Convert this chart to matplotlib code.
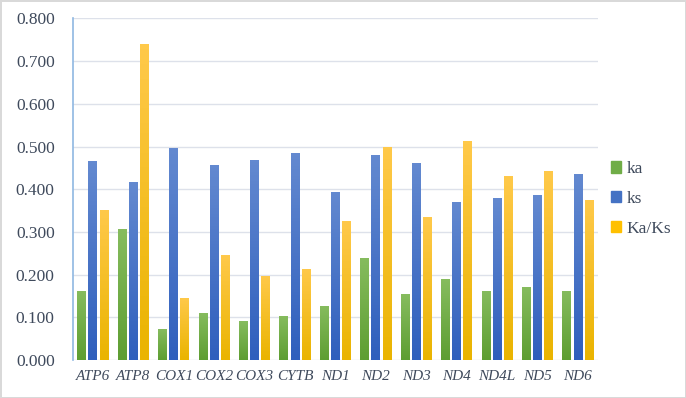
import numpy as np
import matplotlib

matplotlib.use("Agg")
import matplotlib.pyplot as plt
from matplotlib.colors import LinearSegmentedColormap
from matplotlib.patches import Patch

genes = ["ATP6", "ATP8", "COX1", "COX2", "COX3", "CYTB", "ND1",
         "ND2", "ND3", "ND4", "ND4L", "ND5", "ND6"]
ka = [0.162, 0.306, 0.072, 0.111, 0.091, 0.103, 0.127,
      0.239, 0.154, 0.189, 0.162, 0.171, 0.163]
ks = [0.465, 0.416, 0.497, 0.456, 0.468, 0.484, 0.393,
      0.481, 0.461, 0.371, 0.379, 0.386, 0.435]
ka_ks = [0.351, 0.739, 0.146, 0.245, 0.198, 0.214, 0.325,
         0.499, 0.334, 0.512, 0.430, 0.443, 0.376]
yticks = [0.0, 0.1, 0.2, 0.3, 0.4, 0.5, 0.6, 0.7, 0.8]

series = [
    ("ka", ka, "#70ad47", ("#86bc5e", "#5e9e32")),
    ("ks", ks, "#4472c4", ("#6389d0", "#2f5fbd")),
    ("Ka/Ks", ka_ks, "#ffc000", ("#ffc94a", "#eab400")),
]

plt.rcParams["font.family"] = ["Liberation Serif", "DejaVu Serif"]
TXT = "#3f4a5c"

fig = plt.figure(figsize=(6.86, 3.98), dpi=100)
fig.patch.set_edgecolor("#d9d9d9")
fig.patch.set_linewidth(2)
ax = fig.add_axes([0.106, 0.095, 0.766, 0.859])

x = np.arange(len(genes))
width = 0.22
step = 0.276
grad = np.linspace(1, 0, 64).reshape(-1, 1)

for i, (name, vals, col, (top, bot)) in enumerate(series):
    bars = ax.bar(x + (i - 1) * step, vals, width, color=col, zorder=2)
    cmap = LinearSegmentedColormap.from_list(name, [bot, top])
    for b in bars:
        x0, y0 = b.get_x(), b.get_y()
        im = ax.imshow(grad, cmap=cmap, aspect="auto", zorder=2.5,
                       extent=(x0, x0 + b.get_width(), y0, y0 + b.get_height()))
        im.set_clip_path(b)

ax.set_xlim(-0.5, len(genes) - 0.5)
ax.set_ylim(0, 0.8)
ax.set_yticks(yticks)
ax.set_yticklabels([f"{v:.3f}" for v in yticks], fontsize=12.5, color=TXT)
ax.set_xticks(x)
ax.set_xticklabels(genes, fontsize=11, color=TXT, style="italic")
ax.tick_params(length=0)
ax.tick_params(axis="y", pad=13)
ax.tick_params(axis="x", pad=7)
ax.grid(axis="y", color="#dde1ea", lw=1, zorder=0)
for s in ["top", "right", "bottom"]:
    ax.spines[s].set_visible(False)
ax.spines["left"].set_color("#8fb8e2")
ax.spines["left"].set_linewidth(1.2)

handles = [Patch(color=c) for _, _, c, _ in series]
fig.legend(handles, [n for n, _, _, _ in series], loc="center left",
           bbox_to_anchor=(0.868, 0.5), frameon=False, fontsize=12.5,
           handlelength=0.6, handleheight=0.6, handletextpad=0.3,
           labelspacing=0.8, labelcolor=TXT)

fig.savefig("out.png", dpi=100)
